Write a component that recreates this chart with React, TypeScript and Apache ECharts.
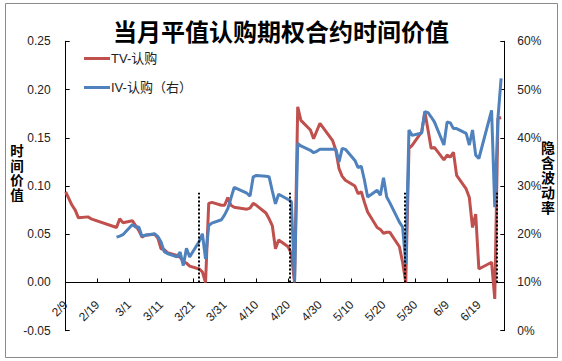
import React, { useEffect, useRef } from "react";
import * as echarts from "echarts";

// Day offsets from 2015-02-09 (2/9 = day 0)
const tvDays = [0, 1, 2, 3, 4, 7, 8, 16, 17, 18, 21, 22, 23, 24, 25, 28, 29, 30, 31, 32, 35, 36, 37, 38, 39, 42, 43, 44,
  45, 46, 49, 50, 51, 52, 53, 57, 58, 59, 60, 63, 64, 65, 66, 67, 70, 71, 72,
  73, 74, 77, 78, 79, 80, 84, 85, 86, 87, 88, 91, 92, 93, 94, 95, 98, 99, 100, 101, 102, 105, 106, 107,
  108, 109, 112, 113, 114, 115, 116, 119, 120, 121, 122, 123, 126, 127, 128, 129, 130, 134, 135, 136, 137];
const tvValues = [0.094, 0.087, 0.080, 0.075, 0.067, 0.068, 0.066, 0.057, 0.066, 0.062, 0.064, 0.059, 0.054, 0.047, 0.049, 0.050, 0.046, 0.035, 0.034, 0.031, 0.028, 0.026, 0.022, 0.020, 0.017, 0.014, 0.011, 0.000,
  0.082, 0.083, 0.080, 0.080, 0.088, 0.080, 0.078, 0.076, 0.077, 0.082, 0.080, 0.072, 0.066, 0.059, 0.035, 0.044, 0.037, 0.030, 0.000,
  0.182, 0.168, 0.158, 0.149, 0.157, 0.165, 0.147, 0.137, 0.118, 0.110, 0.106, 0.100, 0.092, 0.094, 0.083, 0.073, 0.057, 0.055, 0.051, 0.052, 0.052, 0.037, 0.021, 0.000,
  0.139, 0.142, 0.156, 0.177, 0.158, 0.139, 0.140, 0.127, 0.132, 0.130, 0.135, 0.111, 0.097, 0.088, 0.057, 0.071, 0.014, 0.021, -0.017, 0.170, 0.171];

const ivDays = [16, 17, 18, 21, 22, 23, 24, 25, 28, 29, 30, 31, 32, 35, 36, 37, 38, 39, 42, 43, 44,
  45, 46, 49, 50, 51, 52, 53, 57, 58, 59, 60, 63, 64, 65, 66, 67, 70, 71, 72,
  73, 74, 77, 78, 79, 80, 84, 85, 86, 87, 88, 91, 92, 93, 94, 95, 98, 99, 100, 101, 102, 105, 106, 107,
  108, 109, 112, 113, 114, 115, 116, 119, 120, 121, 122, 123, 126, 127, 128, 129, 130, 134, 135, 136, 137];
const ivValues = [19.4, 19.6, 19.9, 22.0, 21.5, 21.5, 19.6, 19.8, 20.1, 19.5, 18.4, 16.4, 16.0, 15.3, 16.3, 13.5, 17.1, 15.3, 18.5, 20.1, 14.9,
  21.8, 22.3, 23.0, 24.0, 25.3, 27.5, 29.7, 28.5, 27.9, 31.9, 32.2, 32.0, 31.9, 29.0, 26.3, 28.3, 27.2, 26.8, 10.1,
  38.8, 38.3, 37.4, 36.9, 37.2, 37.6, 37.6, 37.6, 35.0, 37.8, 37.6, 35.3, 33.8, 34.1, 31.2, 27.7, 29.1, 28.1, 31.7, 27.7, 26.5, 22.5, 21.5, 13.9,
  41.6, 40.5, 41.0, 45.4, 45.2, 44.3, 43.3, 38.5, 43.3, 43.1, 41.9, 41.9, 40.9, 38.5, 41.6, 36.4, 35.7, 45.7, 25.6, 44.0, 52.3];

// Expiry marker positions (days) and their height (left axis value)
const markerDays = [42, 70.6, 106.8, 135.6];
const markerTop = 0.093;

const seriesNames = ["TV-认购", "IV-认购（右）"];
const titleText = "当月平值认购期权合约时间价值";
const leftAxisName = "时间价值";
const rightAxisName = "隐含波动率";

const baseYear = 2015;
const baseMonth = 1; // February (0-based)
const baseDate = 9;

function dayLabel(d: number): string {
  const dt = new Date(baseYear, baseMonth, baseDate + d);
  return `${dt.getMonth() + 1}/${dt.getDate()}`;
}

const FONT = "'Liberation Sans', 'Noto Sans CJK SC', sans-serif";

export default function App() {
  const ref = useRef<HTMLDivElement>(null);
  useEffect(() => {
    if (!ref.current) return;
    const chart = echarts.init(ref.current, null, { renderer: "svg" });
    const tvData = tvDays.map((d, i) => [d, tvValues[i]]);
    const ivData = ivDays.map((d, i) => [d, ivValues[i]]);
    chart.setOption({
      animation: false,
      textStyle: { fontFamily: FONT },
      grid: { left: 65.7, right: 57.7, top: 41.3, bottom: 30.3, containLabel: false, outerBoundsMode: "none" },
      legend: {
        data: seriesNames,
        orient: "vertical",
        left: 79,
        top: 47,
        icon: "rect",
        itemWidth: 26,
        itemHeight: 3,
        itemGap: 16,
        textStyle: { fontSize: 13, color: "#222", fontFamily: FONT, padding: [0, 0, 0, -4] },
      },
      xAxis: {
        type: "value",
        min: 0,
        max: 138,
        interval: 10,
        axisLine: { onZero: true, onZeroAxisIndex: 0, lineStyle: { color: "#000", width: 1 } },
        axisTick: { inside: true, length: 4, lineStyle: { color: "#000" } },
        axisLabel: {
          rotate: 45,
          margin: -28,
          fontSize: 12,
          color: "#222",
          fontFamily: FONT,
          formatter: (v: number) => (v % 10 === 0 ? dayLabel(v) : ""),
        },
        splitLine: { show: false },
      },
      yAxis: [
        {
          type: "value",
          min: -0.05,
          max: 0.25,
          interval: 0.05,
          axisLine: { show: true, onZero: false, lineStyle: { color: "#000", width: 1 } },
          axisTick: { show: true, inside: true, length: 4, lineStyle: { color: "#000" } },
          axisLabel: { margin: 15, fontSize: 12, color: "#222", fontFamily: FONT, formatter: (v: number) => v.toFixed(2) },
          splitLine: { show: false },
        },
        {
          type: "value",
          min: 0,
          max: 60,
          interval: 10,
          position: "right",
          axisLine: { show: true, onZero: false, lineStyle: { color: "#000", width: 1 } },
          axisTick: { show: true, inside: true, length: 4, lineStyle: { color: "#000" } },
          axisLabel: { margin: 13, fontSize: 12, color: "#222", fontFamily: FONT, formatter: "{value}%" },
          splitLine: { show: false },
        },
      ],
      series: [
        {
          name: seriesNames[0],
          type: "line",
          yAxisIndex: 0,
          data: tvData,
          showSymbol: false,
          symbol: "none",
          lineStyle: { color: "#C0504D", width: 3 },
          itemStyle: { color: "#C0504D" },
          markLine: {
            silent: true,
            symbol: "none",
            label: { show: false },
            lineStyle: { color: "#000", width: 2, type: [2, 2] },
            data: markerDays.map((d) => [{ coord: [d, 0] }, { coord: [d, markerTop] }]),
          },
        },
        {
          name: seriesNames[1],
          type: "line",
          yAxisIndex: 1,
          data: ivData,
          showSymbol: false,
          symbol: "none",
          lineStyle: { color: "#4F81BD", width: 3 },
          itemStyle: { color: "#4F81BD" },
        },
      ],
      graphic: [
        {
          type: "rect",
          shape: { x: 5.5, y: 3.5, width: 552, height: 354 },
          style: { fill: "none", stroke: "#8a8a8a", lineWidth: 1 },
          silent: true,
        },
        {
          type: "text",
          x: 281,
          y: 30,
          style: {
            text: titleText,
            textAlign: "center",
            textVerticalAlign: "middle",
            font: "bold 24px 'Noto Sans CJK SC', sans-serif",
            fill: "#000",
          },
        },
        {
          type: "text",
          x: 17,
          y: 172,
          style: {
            text: leftAxisName.split("").join("\n"),
            textAlign: "center",
            textVerticalAlign: "middle",
            font: "bold 13.5px 'Noto Sans CJK SC', sans-serif",
            lineHeight: 14.5,
            fill: "#000",
          },
        },
        {
          type: "text",
          x: 548,
          y: 177,
          style: {
            text: rightAxisName.split("").join("\n"),
            textAlign: "center",
            textVerticalAlign: "middle",
            font: "bold 14px 'Noto Sans CJK SC', sans-serif",
            lineHeight: 15,
            fill: "#000",
          },
        },
      ],
    });
    return () => chart.dispose();
  }, []);
  return (
    <div
      ref={ref}
      style={{ position: "fixed", left: 0, top: 0, width: 562, height: 361, background: "#fff" }}
    />
  );
}
